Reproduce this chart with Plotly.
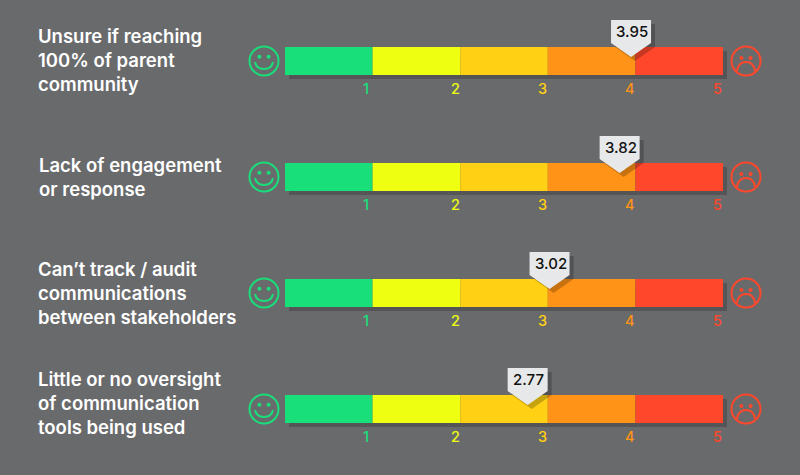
import plotly.graph_objects as go

labels = ["Unsure if reaching<br>100% of parent<br>community",
          "Lack of engagement<br>or response",
          "Can’t track / audit<br>communications<br>between stakeholders",
          "Little or no oversight<br>of communication<br>tools being used"]
scores = [3.95, 3.82, 3.02, 2.77]
scale = [1, 2, 3, 4, 5]
colors = ["#19df7b", "#eeff12", "#ffd014", "#ff9317", "#ff472b"]
BG = "#696a6c"
SHADOW = "#555557"

PX_X0, PX_UNIT = 285, 87.6
PX_Y0, PX_ROW = 61, 116
W, H = 800, 475
rows = list(range(len(labels)))

fig = go.Figure()
fig.add_bar(y=rows, x=[5] * 4, base=[4 / PX_UNIT] * 4, orientation="h",
            width=28 / PX_ROW, offset=-10 / PX_ROW, marker=dict(color=SHADOW, line_width=0),
            hoverinfo="skip", showlegend=False)
for s, c in zip(scale, colors):
    fig.add_bar(y=rows, x=[1] * 4, base=[s - 1] * 4, orientation="h",
                width=28 / PX_ROW, offset=-14 / PX_ROW, marker=dict(color=c, line_width=0),
                hoverinfo="skip", showlegend=False)

shapes, ann = [], []
def pshape(xa, ya, **kw):
    d = dict(xref="x", yref="y", xsizemode="pixel", ysizemode="pixel",
             xanchor=xa, yanchor=ya, layer="above")
    d.update(kw)
    shapes.append(d)

def face(xa, r, col, sad):
    cx = -21 if not sad else 23
    pshape(xa, r, type="circle", x0=cx - 14.5, x1=cx + 14.5, y0=-14.5, y1=14.5,
           line=dict(color=col, width=2), fillcolor="rgba(0,0,0,0)")
    ey = 4.3 if not sad else 3
    for dx in (-4.6, 4.6):
        pshape(xa, r, type="circle", x0=cx + dx - 2, x1=cx + dx + 2, y0=ey - 2, y1=ey + 2,
               line_width=0, fillcolor=col)
    if sad:
        path = f"M {cx-9} -10 C {cx-8} -3 {cx-4} -1 {cx} -1 C {cx+4} -1 {cx+8} -3 {cx+9} -10"
    else:
        path = f"M {cx-9} -1 C {cx-8} -6 {cx-4} -8 {cx} -8 C {cx+4} -8 {cx+8} -6 {cx+9} -1"
    pshape(xa, r, type="path", path=path, line=dict(color=col, width=2),
           fillcolor="rgba(0,0,0,0)")

label_x = [36, 37, 36, 36]
label_shift = [1, 0, 0, 6]
tick_shift = [-7, -5, -5, -5, -6]
for r, (lab, v) in enumerate(zip(labels, scores)):
    face(0, r, colors[0], False)
    face(5, r, colors[4], True)
    pshape(v, r, type="path", line_width=0, fillcolor="rgba(0,0,0,0.22)",
           path="M -16 37 L 24 37 L 24 14 L 4 0 L -16 14 Z")
    pshape(v, r, type="path", line_width=0, fillcolor="#e7e8e9",
           path="M -20 41 L 20 41 L 20 18 L 0 4 L -20 18 Z")
    ann.append(dict(x=v, y=r, text=f"{v:.2f}", showarrow=False, xshift=1, yshift=30,
                    font=dict(family="Inter", size=15, color="#111111", weight=500)))
    ann.append(dict(xref="paper", x=label_x[r] / W, y=r, text=lab, showarrow=False,
                    xanchor="left", yanchor="middle", align="left", yshift=label_shift[r],
                    font=dict(family="Inter", size=18.5, color="#ffffff", weight=600)))
    for s, c, sh in zip(scale, colors, tick_shift):
        ann.append(dict(x=s, y=r, text=str(s), showarrow=False, xshift=sh, yshift=-27,
                        font=dict(family="Inter", size=14.5, color=c, weight=500)))

fig.update_layout(
    width=W, height=H, margin=dict(l=0, r=0, t=0, b=0),
    paper_bgcolor=BG, plot_bgcolor=BG, barmode="overlay",
    shapes=shapes, annotations=ann, showlegend=False,
    xaxis=dict(visible=False, range=[-PX_X0 / PX_UNIT, (W - PX_X0) / PX_UNIT]),
    yaxis=dict(visible=False, range=[(H - PX_Y0) / PX_ROW, -PX_Y0 / PX_ROW]),
)
fig.write_html("out.html", config=dict(displayModeBar=False),
               post_script="document.body.style.margin='0';document.body.style.overflow='hidden';document.body.style.background='#696a6c';")
